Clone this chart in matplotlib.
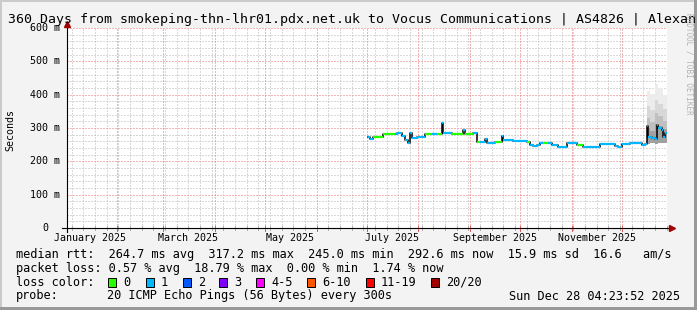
import matplotlib
matplotlib.use("Agg")
import matplotlib.pyplot as plt
import matplotlib.transforms as mtransforms
from matplotlib.patches import Rectangle
import pandas as pd

# --- data ---
title = "360 Days from smokeping-thn-lhr01.pdx.net.uk to Vocus Communications | AS4826 | Alexan"
t_start = pd.Timestamp("2025-01-02 04:23:52")
t_end = pd.Timestamp("2025-12-28 04:23:52")

# median rtt steps (start date of each step, value in ms, loss class index)
rtt_dates = ["2025-07-02", "2025-07-03", "2025-07-05", "2025-07-11", "2025-07-18",
             "2025-07-19", "2025-07-22", "2025-07-24", "2025-07-26", "2025-07-27",
             "2025-07-28", "2025-07-31", "2025-08-05", "2025-08-09", "2025-08-12",
             "2025-08-15", "2025-08-16", "2025-08-21", "2025-08-28", "2025-08-29",
             "2025-09-03", "2025-09-05", "2025-09-07", "2025-09-10", "2025-09-11",
             "2025-09-16", "2025-09-20", "2025-09-21", "2025-09-27", "2025-10-05",
             "2025-10-07", "2025-10-09", "2025-10-11", "2025-10-13", "2025-10-15",
             "2025-10-18", "2025-10-20", "2025-10-24", "2025-10-29", "2025-11-04",
             "2025-11-08", "2025-11-18", "2025-11-27", "2025-11-29", "2025-12-01",
             "2025-12-06", "2025-12-13", "2025-12-15", "2025-12-16", "2025-12-17",
             "2025-12-19", "2025-12-21", "2025-12-22", "2025-12-23", "2025-12-25",
             "2025-12-26", "2025-12-27"]
rtt_ms = [272, 266, 274, 281, 281,
          284, 277, 263, 254, 284,
          269, 274, 281, 281, 282,
          316, 284, 281, 294, 281,
          286, 259, 259, 266, 256,
          259, 275, 264, 261, 259,
          249, 246, 249, 254, 254,
          256, 249, 244, 254, 249,
          244, 252, 247, 244, 251,
          254, 249, 251, 305, 274,
          269, 266, 309, 299, 294,
          274, 284]
rtt_loss = [1, 1, 0, 0, 1,
            1, 1, 1, 1, 1,
            1, 1, 0, 1, 0,
            1, 1, 0, 1, 0,
            1, 0, 1, 1, 1,
            0, 1, 1, 1, 0,
            1, 1, 1, 1, 0,
            1, 1, 1, 1, 0,
            1, 1, 1, 1, 1,
            1, 1, 1, 4, 1,
            1, 1, 1, 1, 1,
            1, 1]

# smoke (ping spread) at the end of the period
smoke_dates = ["2025-12-16", "2025-12-18", "2025-12-21", "2025-12-23", "2025-12-26", "2025-12-28"]
smoke_lo = [252, 255, 252, 255, 256, 256]
smoke_hi = [410, 403, 432, 419, 400, 400]
smoke_p90 = [365, 355, 385, 372, 358, 358]
smoke_p75 = [330, 318, 345, 335, 322, 322]
smoke_p60 = [300, 292, 312, 305, 298, 298]

loss_labels = ["0", "1", "2", "3", "4-5", "6-10", "11-19", "20/20"]
loss_colors = ["#26ff00", "#00b8ff", "#0059ff", "#7e00ff", "#ff00ff", "#ff5500", "#ff0000", "#a10000"]

y_ticks = [0, 100, 200, 300, 400, 500, 600]
y_tick_labels = ["0", "100 m", "200 m", "300 m", "400 m", "500 m", "600 m"]
x_label_months = ["2025-01-01", "2025-03-01", "2025-05-01", "2025-07-01", "2025-09-01", "2025-11-01"]
x_labels = ["January 2025", "March 2025", "May 2025", "July 2025", "September 2025", "November 2025"]

row_rtt = "median rtt:  264.7 ms avg  317.2 ms max  245.0 ms min  292.6 ms now  15.9 ms sd  16.6   am/s"
row_loss = "packet loss: 0.57 % avg  18.79 % max  0.00 % min  1.74 % now"
probe_text = "20 ICMP Echo Pings (56 Bytes) every 300s"
stamp_text = "Sun Dec 28 04:23:52 2025"

# --- figure ---
W, H = 697, 310
MONO = "DejaVu Sans Mono"
fig = plt.figure(figsize=(W / 100, H / 100), dpi=100, facecolor="#f3f3f3")
ax = fig.add_axes([67 / W, (H - 228) / H, 600 / W, 200 / H])
ax.set_facecolor("white")
for s in ax.spines.values():
    s.set_visible(False)

x0, x1 = pd.Timestamp(t_start), pd.Timestamp(t_end)
ax.set_xlim(x0, x1)
ax.set_ylim(0, 600)
ax.set_xticks([])
ax.set_yticks([])

dot = (0, (1, 2))
minor_col = "#b4b4b4"
major_col = "#ee6a6a"
# horizontal grid
for v in range(20, 601, 20):
    col = major_col if v % 100 == 0 else minor_col
    ax.axhline(v, color=col, lw=0.72, ls=dot, zorder=1)
# vertical grid: weeks (minor) and months (major)
weeks = pd.date_range(x0, x1, freq="W-SUN").normalize()
months = pd.date_range("2025-02-01", x1, freq="MS")
for d in weeks:
    if d not in months:
        ax.axvline(d, color=minor_col, lw=0.72, ls=dot, zorder=1)
for d in months:
    ax.axvline(d, color=major_col, lw=0.72, ls=dot, zorder=1)

# smoke layers
sd = pd.to_datetime(smoke_dates)
ax.fill_between(sd, smoke_lo, smoke_hi, step="post", color="#ececec", lw=0, zorder=2)
ax.fill_between(sd, smoke_lo, smoke_p90, step="post", color="#d8d8d8", lw=0, zorder=2)
ax.fill_between(sd, smoke_lo, smoke_p75, step="post", color="#c0c0c0", lw=0, zorder=2)
ax.fill_between(sd, smoke_lo, smoke_p60, step="post", color="#a0a0a0", lw=0, zorder=2)

# median line: black step underneath, loss-coloured steps on top
rd = list(pd.to_datetime(rtt_dates)) + [x1]
vals = rtt_ms + [rtt_ms[-1]]
ax.step(rd, vals, where="post", color="black", lw=1.1, zorder=3)
for i in range(len(rtt_ms)):
    ax.plot([rd[i], rd[i + 1]], [rtt_ms[i], rtt_ms[i]], color=loss_colors[rtt_loss[i]],
            lw=1.6, solid_capstyle="butt", zorder=4)

# axes with arrows
ax.plot([-5 / 600, 1 + 2 / 600], [0, 0], color="black", lw=0.8, transform=ax.transAxes,
        clip_on=False, zorder=5)
ax.plot([0, 0], [-4 / 200, 1 + 2 / 200], color="black", lw=0.8, transform=ax.transAxes,
        clip_on=False, zorder=5)
ax.plot([1 + 5 / 600], [0], marker=">", ms=5, color="#a10000", mec="#a10000",
        transform=ax.transAxes, clip_on=False, zorder=6)
ax.plot([0], [1 + 4 / 200], marker="^", ms=5, color="#a10000", mec="#a10000",
        transform=ax.transAxes, clip_on=False, zorder=6)

# axis ticks
xtr = ax.get_xaxis_transform()
for d in weeks:
    ax.plot([d, d], [-2 / 200, 2 / 200], color="#b0b0b0", lw=0.72, transform=xtr, clip_on=False)
for d in months:
    ax.plot([d, d], [-3 / 200, 2 / 200], color="#e06060", lw=0.72, transform=xtr, clip_on=False)

# tick labels
ylab_tr = mtransforms.offset_copy(ax.get_yaxis_transform(), fig=fig, x=-22, y=0, units="dots")
for v, lab in zip(y_ticks, y_tick_labels):
    ax.text(0, v, lab, transform=ylab_tr, ha="center", va="center", fontsize=7.2, family=MONO)
xlab_tr = mtransforms.offset_copy(xtr, fig=fig, x=0, y=-9.7, units="dots")
for m, lab in zip(x_label_months, x_labels):
    ax.text(pd.Timestamp(m) + pd.Timedelta(days=15), 0, lab, transform=xlab_tr,
            ha="center", va="center", fontsize=7.2, family=MONO)

fig.text(10.5 / W, 1 - 130 / H, "Seconds", rotation=90, ha="center", va="center",
         fontsize=7.2, family=MONO)

# title and watermark
fig.text(8 / W, 1 - 20 / H, title, ha="left", va="center", fontsize=9.5, family=MONO)
fig.text(688.5 / W, 1 - 64 / H, "RRDTOOL / TOBI OETIKER", rotation=-90, ha="center",
         va="center", fontsize=5.5, family=MONO, color="#b4b4b4")

# legend rows
fs = 8.55
fig.text(16 / W, 1 - 254.3 / H, row_rtt, ha="left", va="center", fontsize=fs, family=MONO)
fig.text(16 / W, 1 - 268.3 / H, row_loss, ha="left", va="center", fontsize=fs, family=MONO)
fig.text(16 / W, 1 - 282.3 / H, "loss color:", ha="left", va="center", fontsize=fs, family=MONO)
box_x = [108, 146, 183, 219, 256, 307, 366, 431]
for bx, lab, col in zip(box_x, loss_labels, loss_colors):
    fig.add_artist(Rectangle((bx / W, 1 - 286.5 / H), 8 / W, 8.5 / H, transform=fig.transFigure,
                             facecolor=col, edgecolor="black", lw=0.7))
    fig.text((bx + 15) / W, 1 - 282.3 / H, lab, ha="left", va="center", fontsize=fs, family=MONO)
fig.text(16 / W, 1 - 296 / H, "probe:", ha="left", va="center", fontsize=fs, family=MONO)
fig.text(107.3 / W, 1 - 296 / H, probe_text, ha="left", va="center", fontsize=fs, family=MONO)
fig.text(680 / W, 1 - 296 / H, stamp_text, ha="right", va="center", fontsize=fs, family=MONO)

# 3d-ish frame
fig.add_artist(Rectangle((0, 1 - 2 / H), 1, 2 / H, transform=fig.transFigure, color="#cbcbcb", lw=0))
fig.add_artist(Rectangle((0, 0), 2 / W, 1, transform=fig.transFigure, color="#cbcbcb", lw=0))
fig.add_artist(Rectangle((0, 0), 1, 3 / H, transform=fig.transFigure, color="#999999", lw=0))
fig.add_artist(Rectangle((1 - 3 / W, 0), 3 / W, 1, transform=fig.transFigure, color="#999999", lw=0))

fig.savefig("out.png", dpi=100, facecolor=fig.get_facecolor())
